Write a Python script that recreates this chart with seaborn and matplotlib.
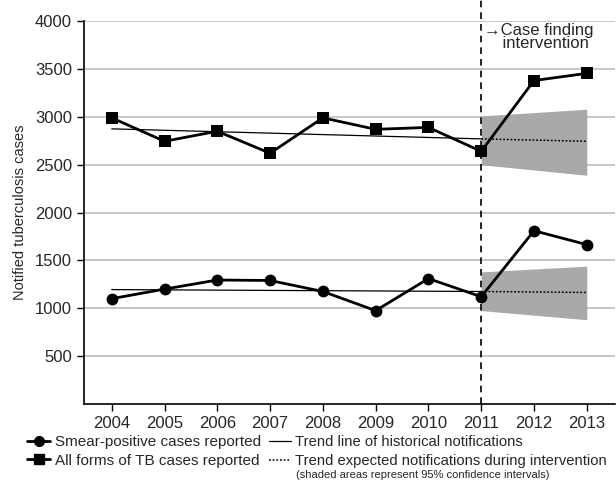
import pandas as pd
import seaborn as sns
import matplotlib.pyplot as plt
from matplotlib.lines import Line2D

sns.set_style("white")
plt.rcParams['font.family'] = ['Liberation Sans', 'DejaVu Sans']

years = [2004, 2005, 2006, 2007, 2008, 2009, 2010, 2011, 2012, 2013]
smear_pos = [1100, 1200, 1295, 1290, 1175, 975, 1310, 1120, 1810, 1665]
all_forms = [2990, 2745, 2850, 2620, 2990, 2870, 2890, 2640, 3380, 3455]

# historical trend lines (2004 -> 2011)
trend_years = [2004, 2011]
trend_all = [2875, 2770]
trend_smear = [1195, 1175]

# expected trend during intervention with 95% CI (2011 -> 2013)
exp_years = [2011, 2013]
exp_all = [2770, 2745]
exp_all_lo = [2500, 2390]
exp_all_hi = [3010, 3080]
exp_smear = [1175, 1165]
exp_smear_lo = [975, 880]
exp_smear_hi = [1380, 1440]

yticks = [500, 1000, 1500, 2000, 2500, 3000, 3500, 4000]

df = pd.DataFrame({"year": years, "smear": smear_pos, "all": all_forms})

fig = plt.figure(figsize=(6.16, 4.82), dpi=100)
ax = fig.add_axes([0.136, 0.162, 0.862, 0.794])

ax.set_ylim(0, 4000)
ax.set_xlim(2003.47, 2013.53)
ax.set_yticks(yticks)
ax.set_xticks(years)
ax.yaxis.grid(True, color="#bdbdbd", lw=1.2)
ax.set_axisbelow(True)

# confidence bands
ax.fill_between(exp_years, exp_all_lo, exp_all_hi, color="#a9a9a9", lw=0, zorder=1)
ax.fill_between(exp_years, exp_smear_lo, exp_smear_hi, color="#a9a9a9", lw=0, zorder=1)

# trends
for ty in (trend_all, trend_smear):
    sns.lineplot(x=trend_years, y=ty, ax=ax, color="black", lw=0.9)
for ey in (exp_all, exp_smear):
    sns.lineplot(x=exp_years, y=ey, ax=ax, color="black", lw=1.1, linestyle=(0, (1.2, 1.2)))

# observed series
sns.lineplot(data=df, x="year", y="all", ax=ax, color="black", lw=2,
             marker="s", markersize=8, markeredgewidth=0, zorder=5)
sns.lineplot(data=df, x="year", y="smear", ax=ax, color="black", lw=2,
             marker="o", markersize=8.5, markeredgewidth=0, zorder=5)

# intervention line
ax.plot([2011, 2011], [0, 4230], color="black", lw=1.2, ls=(0, (4, 3)), clip_on=False, zorder=6)
ax.text(2011.05, 3835, "\u2192Case finding\n    intervention", fontsize=12, va="center",
        ha="left", linespacing=0.9)

sns.despine(ax=ax)
for s in ("left", "bottom"):
    ax.spines[s].set_color("black")
    ax.spines[s].set_linewidth(1.2)
ax.tick_params(axis="both", length=5, width=1, color="black", labelsize=12, left=True, bottom=True)
ax.set_xlabel("")
ax.set_ylabel("Notified tuberculosis cases", fontsize=10.5, labelpad=6)

handles_obs = [
    Line2D([], [], color="black", lw=2, marker="o", markersize=7),
    Line2D([], [], color="black", lw=2, marker="s", markersize=7),
]
labels_obs = ["Smear-positive cases reported", "All forms of TB cases reported"]
handles_trend = [
    Line2D([], [], color="black", lw=0.9),
    Line2D([], [], color="black", lw=1.1, linestyle=(0, (1.2, 1.2))),
]
labels_trend = ["Trend line of historical notifications",
                "Trend expected notifications during intervention"]

leg_kw = dict(loc="upper left", frameon=False, handlelength=1.5, handletextpad=0.3,
              labelspacing=0.3, borderaxespad=0, borderpad=0)
fig.legend(handles_obs, labels_obs, bbox_to_anchor=(0.044, 0.097), fontsize=11, **leg_kw)
fig.legend(handles_trend, labels_trend, bbox_to_anchor=(0.436, 0.097), fontsize=10.6, **leg_kw)
fig.text(0.481, 0.004, "(shaded areas represent 95% confidence intervals)", fontsize=8.0,
         ha="left", va="bottom")

fig.savefig("out.png", dpi=100)
